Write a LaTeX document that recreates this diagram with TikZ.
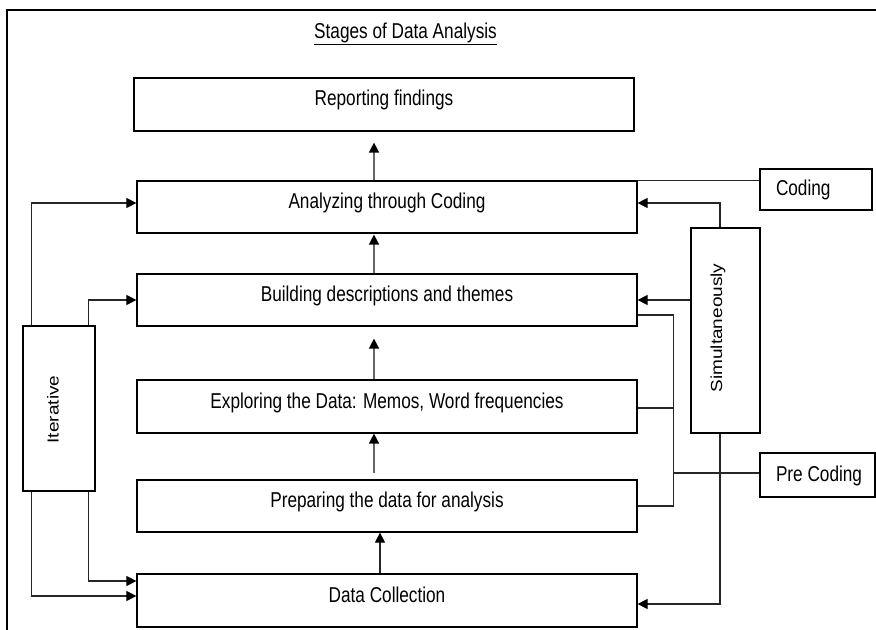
\documentclass[tikz,border=0pt]{standalone}
\usepackage{fontspec}
\usepackage{graphicx}
\usetikzlibrary{arrows.meta,calc}
\newfontfamily\diagfont[FakeStretch=0.80]{Liberation Sans}
\newfontfamily\rotfont{Liberation Sans}
% upright text turned to read bottom-to-top, slightly narrowed across the line
\newcommand\sidetext[1]{\rotatebox{90}{\scalebox{1}[0.84]{\rotfont #1}}}

\begin{document}
\begin{tikzpicture}[x=1bp,y=-1bp,
  basefont/.style={font=\diagfont\fontsize{21.5bp}{25bp}\selectfont},
  stage/.style={basefont, draw=black, line width=1.2bp, minimum width=500bp,
    minimum height=52bp, inner sep=0pt, text height=13bp, text depth=10bp},
  sidebox/.style={draw=black, line width=1.2bp, inner sep=0pt},
  sidelabel/.style={inner sep=0pt, font=\fontsize{19bp}{22bp}\selectfont},
  tag/.style={basefont, draw=black, line width=1.2bp, inner xsep=16bp,
    inner ysep=0pt, text height=15bp, text depth=2bp},
  link/.style={draw=black!85, line width=1.2bp},
  flow/.style={draw=black!60, line width=1.5bp},
  arr/.style={-{Triangle[length=10bp,width=10bp,color=black]}},
]
\useasboundingbox (0,0) rectangle (876,630);

% page frame
\coordinate (frameBL) at (7,630);
\coordinate (frameTL) at (7,10);
\coordinate (frameTR) at (876,10);
\draw[line width=2bp, line join=miter] (frameBL) -- (frameTL) -- (frameTR);

% title, underlined just below its descenders
\node[basefont, anchor=base, inner sep=0pt, text depth=5bp] (title) at (405.5,39)
  {Stages of Data Analysis};
\draw[line width=1bp] (title.south west) -- (title.south east);

% stages
\node[stage, minimum height=53bp] (report)  at (384,104.5) {Reporting findings};
\node[stage] (analyze) at (387,207)   {Analyzing through Coding};
\node[stage] (build)   at (387,300)   {Building descriptions and themes};
\node[stage, minimum height=53bp] (explore) at (387,406.5) {Exploring the Data: Memos, Word frequencies};
\node[stage] (prepare) at (387,506)   {Preparing the data for analysis};
\node[stage, minimum height=53bp] (collect) at (387,600.5) {Data Collection};

% side boxes
\node[sidebox, minimum width=72bp, minimum height=165bp] (iter) at (59,408.5) {};
\node[sidelabel] (iterlabel) at ($(iter.center)+(-6,1)$) {\sidetext{Iterative}};
\node[sidebox, minimum width=69bp, minimum height=205bp] (simul) at (725.5,330.5) {};
\node[sidelabel] (simullabel) at ($(simul.center)+(-7.5,-2.5)$) {\sidetext{Simultaneously}};

\node[tag, minimum height=41bp] (coding) at (816,189.5) {\makebox[80bp][l]{Coding}};
\node[tag, minimum height=44bp] (precode) at (817.5,475) {\makebox[83bp][l]{Pre Coding}};

% main upward flow
\draw[flow,arr] ($(analyze.north)+(-13,0)$) -- ($(analyze.north |- report.south)+(-13,11)$);
\draw[flow,arr] ($(build.north)+(-13,0)$)   -- ($(build.north |- analyze.south)+(-13,1)$);
\draw[flow,arr] ($(explore.north)+(-13,0)$) -- ($(explore.north |- build.south)+(-13,12)$);
\draw[flow,arr] ($(prepare.north)+(-13,-6)$) -- ($(prepare.north |- explore.south)+(-13,0)$);
\draw[link,arr] ($(collect.north)+(-7,0)$) -- ($(collect.north |- prepare.south)+(-7,0)$);

% iterative loops
\draw[link,arr] ($(iter.north west)+(9,0)$) |- ($(analyze.west)+(0,-4)$);
\draw[link,arr] ($(iter.north east)+(-7,0)$) |- (build.west);
\draw[link,arr] ($(iter.south east)+(-7,0)$) |- ($(collect.west)+(0,-19.5)$);
\draw[link,arr] ($(iter.south west)+(9,0)$) |- ($(collect.west)+(0,-4.5)$);

% simultaneous links
\draw[link,arr] ($(simul.north)+(-5.5,0)$) |- ($(analyze.east)+(0,-4)$);
\draw[link,arr] (simul.west |- build.east) -- (build.east);
\draw[link,arr] ($(simul.south)+(-5.5,0)$) |- ($(collect.east)+(0,3.5)$);

% coding label
\draw[link] (analyze.north east) -- (analyze.north east -| coding.west);

% pre-coding bus
\coordinate (busTop) at ($(build.east)+(36,15)$);
\draw[link] ($(build.east)+(0,15)$) -- (busTop) -- (busTop |- prepare.east) -- (prepare.east);
\draw[link] ($(explore.east)+(0,1.5)$) -- ($(explore.east -| busTop)+(0,1.5)$);
\draw[link] ($(precode.west)+(0,-2)$) -- ($(precode.west -| busTop)+(0,-2)$);
\end{tikzpicture}
\end{document}
